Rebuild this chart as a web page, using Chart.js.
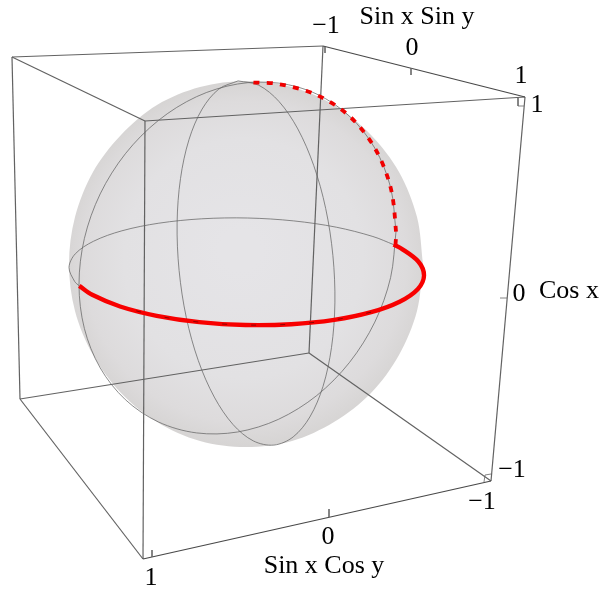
<!DOCTYPE html>
<html><head><meta charset="utf-8">
<style>html,body{margin:0;padding:0;background:#fff}canvas{display:block}</style>
<script src="https://cdn.jsdelivr.net/npm/chart.js@4"></script>
</head><body><canvas id="c" width="600" height="591"></canvas>
<script>
// All points, in picture coordinates
const sphereOutline=[[423,264],[417,217],[399,172],[371,135],[334,105],[292,87],[246,81],[200,87],[157,105],[121,135],[93,172],[75,217],[69,264],[75,311],[93,355],[121,393],[157,422],[200,441],[246,447],[292,441],[334,422],[371,393],[399,355],[417,311],[423,264]];
const equatorBack=[[79.3,285.9],[74.7,281.5],[69,267.5],[75.3,253.8],[93.4,241.3],[121.9,230.8],[158.8,223.2],[201.7,218.8],[247.7,218],[293.7,220.9],[336.3,227.2],[372.9,236.5],[393.6,244.6]];
const redSolid=[[393.6,244.6],[400.8,248.2],[418.3,261.5],[424,275.5],[417.7,289.2],[399.6,301.7],[371.1,312.2],[334.2,319.9],[291.3,324.2],[245.3,325],[199.3,322.1],[156.7,315.8],[120.1,306.5],[92.2,294.8],[79.3,285.9]];
const redInnerMarks=[[371.1,312.2],[334.2,319.9],[291.3,324.2],[245.3,325],[199.3,322.1],[156.7,315.8],[120.1,306.5]];
const redDashed=[[395.5,245],[396,231.6],[390.6,187.4],[374.8,148.1],[349.6,116.3],[316.8,95],[278.5,84],[251.9,82.5]];
const meridianInner=[[238.1,80.9],[258.7,85.2],[279,101.5],[297.8,128.9],[313.7,165.4],[325.7,208.5],[332.9,255.5],[334.9,302.9],[331.5,347.5],[323,386.4],[309.9,416.9],[293.2,436.9],[273.9,445.1],[253.3,440.9],[233,424.5],[214.3,397.1],[198.3,360.6],[186.3,317.5],[179.1,270.5],[177.1,223.1],[180.5,178.5],[189,139.6],[202.1,109.1],[218.9,89],[238.1,80.9]];
const meridianOuter=[[396,231.6],[390.6,277.6],[374.8,322.1],[349.6,362.3],[316.8,395.5],[278.5,419.3],[237.5,432],[196.5,432.9],[158.3,421.9],[125.4,399.7],[100.2,367.9],[84.4,328.6],[79,284.4],[84.4,238.4],[100.2,193.9],[125.4,153.7],[158.3,120.5],[196.5,96.7],[237.5,84],[278.5,83.1],[316.8,94.1],[349.6,116.3],[374.8,148.1],[390.6,187.4],[396,231.6]];
const cornerA=[12,57],cornerB=[145,121],cornerC=[323,46],cornerD=[525,97];
const cornerE=[20,399],cornerF=[143,559],cornerG=[309,353],cornerH=[491,481];
const boxEdges=[[cornerA,cornerC],[cornerA,cornerB],[cornerB,cornerD],[cornerA,cornerE],[cornerB,cornerF],[cornerC,cornerG],[cornerD,cornerH],[cornerE,cornerF],[cornerE,cornerG],[cornerG,cornerH]];
const axisEdges=[[cornerC,cornerD],[cornerF,cornerH]];
const tickMarks=[[[152,550],[152,557]],[[329,509],[329,517]],[[485,475],[484,482]],[[325,47],[325,53]],[[411,68],[411,75]],[[518,98],[518,106]],[[518,106],[524,106]],[[500,298],[507,298]],[[491,474],[485,475]]];
const labelTexts=["Sin x Sin y","\u22121","0","1","1","0","Cos x","\u22121","\u22121","0","Sin x Cos y","1"];
const labelX=[417,326,412,521,537,519,569,512,482,328,324,151];
const labelY=[24,33,55,83,112,301,298,477,509,544,573,585];

const canvas=document.getElementById('c');
const ctx=canvas.getContext('2d');
const sphereFill=ctx.createRadialGradient(240,250,20,246,264,186);
sphereFill.addColorStop(0,'#e5e4e7');
sphereFill.addColorStop(.6,'#e2e1e3');
sphereFill.addColorStop(.85,'#dddbdc');
sphereFill.addColorStop(1,'#d5d3d2');
const toXY=a=>a.map(p=>({x:p[0],y:p[1]}));
const line=(pts,color,width,extra)=>Object.assign({data:toXY(pts),borderColor:color,borderWidth:width,pointRadius:0,tension:0,fill:false,showLine:true},extra||{});
const smooth={tension:.33,capBezierPoints:false};
const datasets=[];
datasets.push(line(redInnerMarks,'rgba(70,0,0,.75)',.8,Object.assign({borderDash:[5,24]},smooth)));
datasets.push(line(redSolid,'#f80000',4.4,smooth));
datasets.push(line(redDashed,'#f00000',3.8,Object.assign({borderDash:[6,7.3]},smooth)));
tickMarks.forEach(t=>datasets.push(line(t,'#666',.8)));
axisEdges.forEach(e=>datasets.push(line(e,'#484848',1.2)));
boxEdges.forEach(e=>datasets.push(line(e,'#626262',1.2)));
datasets.push(line(equatorBack,'#666',.75,smooth));
datasets.push(line(meridianInner,'#666',.75,smooth));
datasets.push(line(meridianOuter,'#666',.75,smooth));
datasets.push(line(sphereOutline,'rgba(0,0,0,0)',0,Object.assign({fill:'shape',backgroundColor:sphereFill},smooth)));

const labelsPlugin={id:'labels',afterDatasetsDraw(chart){
  const c=chart.ctx,sx=chart.scales.x,sy=chart.scales.y;
  c.save();c.fillStyle='#000';c.font='26px "Liberation Serif"';c.textAlign='center';c.textBaseline='alphabetic';
  labelTexts.forEach((t,i)=>c.fillText(t,sx.getPixelForValue(labelX[i]),sy.getPixelForValue(labelY[i])));
  c.restore();
}};
new Chart(ctx,{type:'scatter',data:{datasets},plugins:[labelsPlugin],options:{
  responsive:false,animation:false,layout:{padding:0},
  plugins:{legend:{display:false},tooltip:{enabled:false},title:{display:false}},
  scales:{x:{type:'linear',min:0,max:600,display:false},y:{type:'linear',min:0,max:591,reverse:true,display:false}}
}});
</script></body></html>
